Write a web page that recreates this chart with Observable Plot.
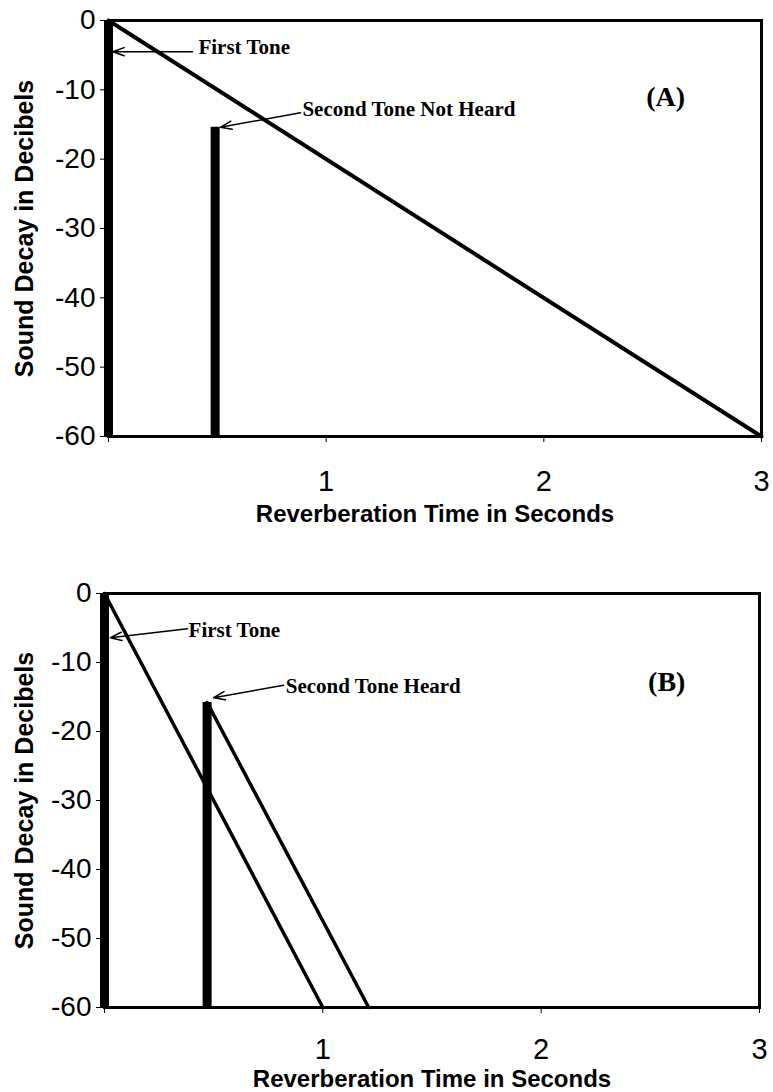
<!DOCTYPE html>
<html>
<head>
<meta charset="utf-8">
<script src="https://cdn.jsdelivr.net/npm/d3@7"></script>
<script src="https://cdn.jsdelivr.net/npm/@observablehq/plot@0.6"></script>
<style>
  html, body { margin: 0; padding: 0; background: #fff; }
  #chart svg { display: block; }
</style>
</head>
<body>
<div id="chart"></div>
<script>
// ---- shared axis data ----
const yTicks = [0, -10, -20, -30, -40, -50, -60];
const xTicks = [0, 1, 2, 3];
const xTickLabels = ["", "1", "2", "3"];
const axisTitleX = "Reverberation Time in Seconds";
const axisTitleY = "Sound Decay in Decibels";

// ---- Panel A ----
const aToneTime = [0, 0.49];
const aToneStart = [0, -15.4];
const aDecayTime = [0, 3];
const aDecayLevel = [0, -60];
const aNoteText = ["First Tone", "Second Tone Not Heard"];
const aNoteX = [0.413, 0.891];
const aNoteY = [-3.8, -12.8];
const aArrowFromX = [0.386, 0.882];
const aArrowFromY = [-4.5, -13.3];
const aArrowToX = [0.02, 0.514];
const aArrowToY = [-4.5, -15.4];
const aPanelLabel = ["(A)"];
const aPanelX = [2.56];
const aPanelY = [-11.1];

// ---- Panel B ----
const bToneTime = [0, 0.47];
const bToneStart = [0, -15.8];
const bDecay1Time = [0, 1];
const bDecay1Level = [0, -60];
const bDecay2Time = [0.47, 1.21];
const bDecay2Level = [-15.8, -60];
const bNoteText = ["First Tone", "Second Tone Heard"];
const bNoteX = [0.385, 0.83];
const bNoteY = [-5.4, -13.5];
const bArrowFromX = [0.38, 0.82];
const bArrowFromY = [-5.1, -13.3];
const bArrowToX = [0.027, 0.50];
const bArrowToY = [-6.4, -15.1];
const bPanelLabel = ["(B)"];
const bPanelX = [2.575];
const bPanelY = [-12.9];

const SANS = "'Liberation Sans', Arial, sans-serif";
const SERIF = "'Liberation Serif', 'Times New Roman', serif";

function makePanel(o) {
  const tones = o.toneTime.map((t, i) => ({t, top: o.toneStart[i]}));
  const decays = o.decays.map(d => d.time.map((t, i) => ({t, level: d.level[i]})));
  const notes = o.noteText.map((s, i) => ({s, x: o.noteX[i], y: o.noteY[i]}));
  const arrows = o.fromX.map((x, i) => ({x1: x, y1: o.fromY[i], x2: o.toX[i], y2: o.toY[i]}));
  const panelLab = o.panelLabel.map((s, i) => ({s, x: o.panelX[i], y: o.panelY[i]}));
  return Plot.plot({
    width: 773,
    height: o.height,
    marginTop: o.mt,
    marginBottom: o.mb,
    marginLeft: o.ml,
    marginRight: o.mr,
    style: {background: "#fff", color: "#000", fontFamily: SANS},
    x: {domain: [0, 3]},
    y: {domain: [-60, 0]},
    marks: [
      Plot.frame({stroke: "#000", strokeWidth: 3}),
      ...decays.map(d => Plot.line(d, {x: "t", y: "level", stroke: "#000", strokeWidth: o.decayWidth})),
      Plot.ruleX(tones, {x: "t", y1: "top", y2: -60, stroke: "#000", strokeWidth: 9}),
      Plot.arrow(arrows, {x1: "x1", y1: "y1", x2: "x2", y2: "y2", stroke: "#000", strokeWidth: 1.5, headLength: 12, headAngle: 40}),
      Plot.text(notes, {x: "x", y: "y", text: "s", textAnchor: "start", fontFamily: SERIF, fontWeight: "bold", fontSize: 21, fill: "#000"}),
      Plot.text(panelLab, {x: "x", y: "y", text: "s", fontFamily: SERIF, fontWeight: "bold", fontSize: 28, fill: "#000"}),
      Plot.axisX({ticks: xTicks, tickFormat: d => xTickLabels[xTicks.indexOf(d)], tickSize: 6, tickPadding: o.xTickPad, fontSize: 29, label: null, stroke: "#000"}),
      Plot.axisY({ticks: yTicks, tickFormat: d => String(d), tickSize: 8, tickPadding: 5, fontSize: 28, label: null, stroke: "#000"}),
      Plot.text([axisTitleX], {frameAnchor: "bottom", dy: o.xLabelDy, text: d => d, fontWeight: "bold", fontSize: 24, fill: "#000", lineAnchor: "middle", textAnchor: "middle"}),
      Plot.text([axisTitleY], {frameAnchor: "left", dx: 24 - o.ml, rotate: -90, text: d => d, fontWeight: "bold", fontSize: 25, fill: "#000", lineAnchor: "middle", textAnchor: "middle"})
    ]
  });
}

const chart = document.getElementById("chart");
chart.append(makePanel({
  height: 575, mt: 20, mb: 139, ml: 108, mr: 12,
  toneTime: aToneTime, toneStart: aToneStart,
  decays: [{time: aDecayTime, level: aDecayLevel}],
  decayWidth: 4,
  noteText: aNoteText, noteX: aNoteX, noteY: aNoteY,
  fromX: aArrowFromX, fromY: aArrowFromY, toX: aArrowToX, toY: aArrowToY,
  panelLabel: aPanelLabel, panelX: aPanelX, panelY: aPanelY,
  xTickPad: 28, xLabelDy: 78
}));
chart.append(makePanel({
  height: 517, mt: 18, mb: 85, ml: 104, mr: 14,
  toneTime: bToneTime, toneStart: bToneStart,
  decays: [{time: bDecay1Time, level: bDecay1Level}, {time: bDecay2Time, level: bDecay2Level}],
  decayWidth: 3.5,
  noteText: bNoteText, noteX: bNoteX, noteY: bNoteY,
  fromX: bArrowFromX, fromY: bArrowFromY, toX: bArrowToX, toY: bArrowToY,
  panelLabel: bPanelLabel, panelX: bPanelX, panelY: bPanelY,
  xTickPad: 25, xLabelDy: 72
}));
</script>
</body>
</html>
